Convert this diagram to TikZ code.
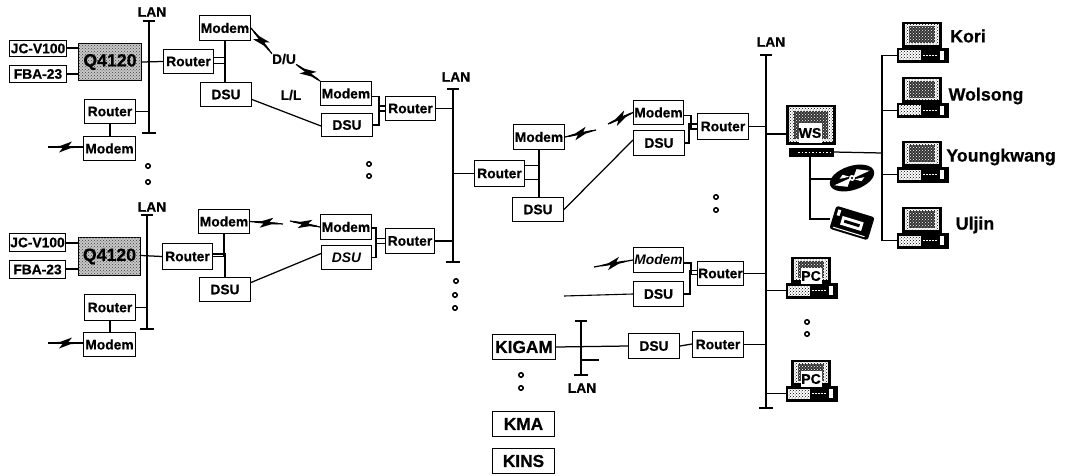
\documentclass[tikz,border=0pt]{standalone}
\usepackage{fontspec}
\setmainfont[BoldFeatures={FakeBold=0.6}]{Liberation Sans}
\usetikzlibrary{patterns,calc}
\tikzset{
  box/.style={draw=black,line width=1.3pt,fill=white,inner sep=0pt,font=\fontsize{13.8}{14}\bfseries\selectfont,text=black},
  bigbox/.style={box,font=\fontsize{17.3}{18}\bfseries\selectfont},
  grayb/.style={box,fill=black!22,postaction={pattern=crosshatch dots,pattern color=black!75},font=\fontsize{17.7}{18}\bfseries\selectfont},
  wire/.style={line width=1.25pt,black},
  thinwire/.style={line width=1.1pt,black},
  bar/.style={line width=1.4pt,black},
  lbl/.style={inner sep=0pt,font=\fontsize{13.8}{14}\bfseries\selectfont,text=black},
  sitelbl/.style={inner sep=0pt,font=\fontsize{17.8}{18}\bfseries\selectfont,text=black},
  ringdot/.style={circle,draw=black,line width=1.5pt,inner sep=0pt,minimum size=4.5pt},
  keyb/.style={draw=black,line width=.5pt,fill=black,inner sep=0pt},
  boltnode/.style={inner sep=0pt,sloped,pos=.5},
}
\newcommand{\bolticon}{\tikz[x=1pt,y=1pt,baseline=0pt]{\fill[black] (-12,-.8)--(-3,-1)--(-6.5,-5.5)--(5,-1.2)--(12,-.7)--(12,.8)--(3,1)--(6.5,5.5)--(-5,1.2)--(-12,.7)--cycle;}}
% \bx{name}{x0}{y0}{x1}{y1}{style}{text}
\newcommand{\bx}[7]{\node[#6,minimum width={(#4-#2-1.3)*1pt},minimum height={(#5-#3-1.3)*1pt}] (#1) at ({(#2+#4)/2},{(#3+#5)/2}) {#7};}
% LAN bar: name, x, ytop, ybottom
\newcommand{\lanbar}[4]{%
  \coordinate (#1t) at (#2,#3); \coordinate (#1b) at (#2,#4);
  \draw[bar] (#1t) -- (#1b);
  \draw[bar] ([xshift=-6pt]#1t) -- ([xshift=6pt]#1t);
  \draw[bar] ([xshift=-7pt]#1b) -- ([xshift=7pt]#1b);}
% \comp{name}{x}{y}{inner label}: monitor top-left at x,y
\newcommand{\comp}[4]{%
  \fill[black] (#2,#3) rectangle (#2+40,#3+26);
  \fill[white] (#2+3,#3+2) rectangle (#2+37,#3+23);
  \fill[pattern=crosshatch dots,pattern color=black] (#2+3,#3+2) rectangle (#2+37,#3+23);
  \fill[black!80] (#2+7,#3+4) rectangle (#2+33,#3+21);
  \fill[pattern=crosshatch dots,pattern color=white] (#2+7,#3+4) rectangle (#2+33,#3+21);
  \node[keyb,minimum width=51pt,minimum height=14.5pt] (#1) at (#2+20.5,#3+33.5) {};
  \fill[white] (#2-3,#3+28.5) rectangle (#2+19,#3+38.5);
  \fill[pattern=crosshatch dots,pattern color=black] (#2-3,#3+28.5) rectangle (#2+19,#3+38.5);
  \draw[white,line width=.8pt,dash pattern=on 2pt off 1pt] (#2+21,#3+33.5) -- (#2+35,#3+33.5);
  \fill[white] (#2+37.5,#3+29) rectangle (#2+42,#3+38);
  \ifx\relax#4\relax\else
    \node[inner sep=0pt,fill=white,minimum width=21pt,minimum height=16pt,font=\fontsize{14}{14}\bfseries\selectfont] at (#2+20,#3+19) {#4};
  \fi}
\begin{document}
\begin{tikzpicture}[x=1pt,y=-1pt]
\useasboundingbox (0,0) rectangle (1067,476);
\fill[white] (0,0) rectangle (1067,476);

%% ---------- LAN bars
\lanbar{la}{149}{21}{133}
\lanbar{lb}{147}{215}{329}
\lanbar{lc}{453}{89}{262}
\lanbar{ld}{766}{55}{408}
\lanbar{le}{581}{321}{375}
\node[lbl] (tla) at (152,12) {LAN};
\node[lbl] (tlb) at (152,207) {LAN};
\node[lbl] (tlc) at (456,77) {LAN};
\node[lbl] (tld) at (771,42) {LAN};
\node[lbl] (tle) at (582,388) {LAN};

%% ---------- top left group
\bx{jca}{9}{40}{67}{57}{box}{JC-V100}
\bx{fba}{9}{65}{67}{83}{box}{FBA-23}
\bx{qa}{78}{43}{142}{81}{grayb}{Q4120}
\bx{ra}{163}{49}{214}{74}{box}{Router}
\bx{ma}{199}{15}{251}{41}{box}{Modem}
\bx{da}{200}{82}{252}{107}{box}{DSU}
\bx{rla}{84}{99}{136}{124}{box}{Router}
\bx{mla}{83}{136}{136}{161}{box}{Modem}
\bx{mra}{320}{81}{372}{106}{box}{Modem}
\bx{dra}{321}{113}{373}{137}{box}{DSU}
\bx{rra}{385}{96}{436}{121}{box}{Router}
\node[lbl] (du) at (284,59) {D/U};
\node[lbl] (ll) at (291,95) {L/L};
\coordinate (fa) at (48,147);

\draw[wire] (jca.east |- 0,48) -- (qa.west |- 0,48);
\draw[wire] (fba.east |- 0,74) -- (qa.west |- 0,74);
\draw[wire] (qa.east) -- (ra.west);
\draw[wire] (rla.east) -- (rla.east -| lat);
\draw[wire] (rla.south) -- (rla.south |- mla.north);
\draw[wire] ([yshift=-2pt]ra.east) -| (ma.south);
\draw[wire] ([yshift=4pt]ra.east) -| (da.north -| ma.south);
\draw[wire] ([yshift=-5pt]da.east) -- ([yshift=-1pt]dra.west);
\draw[wire] ([yshift=-3pt]mra.east) -- ++(7,0) |- ([yshift=-2.5pt]rra.west);
\draw[wire] (dra.east) -- ++(6,0) |- ([yshift=2.5pt]rra.west);
\draw[wire] (rra.east) -- (rra.east -| lct);
\draw[wire] (ma.east) -- (du.north west) node[boltnode] {\bolticon};
\draw[wire] (du.south east) -- (mra.north west) node[boltnode] {\bolticon};
\draw[wire] (fa) -- (mla.west |- fa) node[boltnode] {\bolticon};

%% ---------- bottom left group
\bx{jcb}{9}{233}{66}{252}{box}{JC-V100}
\bx{fbb}{9}{260}{66}{279}{box}{FBA-23}
\bx{qb}{78}{237}{141}{276}{grayb}{Q4120}
\bx{rb}{162}{243}{213}{270}{box}{Router}
\bx{mb}{198}{209}{250}{234}{box}{Modem}
\bx{db}{199}{277}{251}{302}{box}{DSU}
\bx{rlb}{84}{294}{136}{321}{box}{Router}
\bx{mlb}{83}{332}{136}{357}{box}{Modem}
\bx{mrb}{320}{214}{372}{240}{box}{Modem}
\bx{drb}{321}{245}{372}{270}{box}{\itshape DSU}
\bx{rrb}{385}{228}{435}{254}{box}{Router}
\coordinate (gb1) at (283,224);
\coordinate (gb2) at (290,221);
\coordinate (fb) at (48,343);

\draw[wire] (jcb.east |- 0,243) -- (qb.west |- 0,243);
\draw[wire] (fbb.east |- 0,269) -- (qb.west |- 0,269);
\draw[wire] ([yshift=1pt]qb.east) -- (rb.west);
\draw[wire] (rlb.east) -- (rlb.east -| lbt);
\draw[wire] (rlb.south) -- (rlb.south |- mlb.north);
\draw[wire] (rb.east) -| (mb.south);
\draw[wire] ([yshift=2.5pt]rb.east) -- ++(12,0) |- (db.north);
\draw[wire] ([yshift=7pt]db.east) -- ([yshift=4pt]drb.west);
\draw[wire] ([yshift=-1pt]mrb.east) -- ++(4,0) |- ([yshift=-2.5pt]rrb.west);
\draw[wire] (drb.east) -- ++(4,0) |- ([yshift=2.5pt]rrb.west);
\draw[wire] (rrb.east) -- (rrb.east -| lct);
\draw[wire] (mb.east) -- (gb1) node[boltnode] {\bolticon};
\draw[wire] (gb2) -- (mrb.west) node[boltnode] {\bolticon};
\draw[wire] (fb) -- (mlb.west |- fb) node[boltnode] {\bolticon};

%% ---------- middle group
\bx{rm}{474}{160}{525}{187}{box}{Router}
\bx{mm}{513}{124}{565}{150}{box}{Modem}
\bx{dm}{512}{197}{564}{222}{box}{DSU}
\bx{mn}{633}{100}{684}{125}{box}{Modem}
\bx{dn}{633}{130}{685}{156}{box}{DSU}
\bx{rn}{697}{113}{749}{140}{box}{Router}
\coordinate (gm1) at (596,130);
\coordinate (gm2) at (608,124);

\draw[wire] (rm.west -| lct) -- (rm.west);
\draw[wire] ([yshift=-6pt]rm.east) -| (mm.south);
\draw[wire] ([yshift=8pt]rm.east) -| (dm.north -| mm.south);
\draw[wire] (dm.east) -- ([yshift=3pt]dn.west);
\draw[wire] (mm.east) -- (gm1) node[boltnode] {\bolticon};
\draw[wire] (gm2) -- (mn.west) node[boltnode] {\bolticon};
\draw[wire] ([yshift=-3pt]mn.east) -- ++(7,0) |- ([yshift=-2.5pt]rn.west);
\draw[wire] (dn.east) -- ++(4,0) |- ([yshift=2.5pt]rn.west);
\draw[wire] (rn.east) -- (rn.east -| ldt);

%% ---------- lower middle
\bx{mo}{633}{247}{684}{273}{box}{\itshape Modem}
\bx{ro}{697}{261}{744}{286}{box}{Router}
\bx{do}{633}{281}{684}{307}{box}{DSU}
\coordinate (go) at (594,267);
\coordinate (hd) at (564,296);
\draw[wire] (go) -- (mo.west) node[boltnode] {\bolticon};
\draw[thinwire] (hd) -- (do.west);
\draw[wire] ([yshift=-3pt]mo.east) -- ++(7,0) |- ([yshift=-1pt]ro.west);
\draw[wire] (do.east) -- ++(6,0) |- ([yshift=3pt]ro.west);
\draw[wire] (ro.east) -- (ro.east -| ldt);

%% ---------- KIGAM row
\bx{kg}{492}{334}{556}{360}{bigbox}{KIGAM}
\bx{kma}{492}{411}{555}{437}{bigbox}{KMA}
\bx{kin}{492}{448}{555}{474}{bigbox}{KINS}
\bx{dk}{628}{333}{680}{359}{box}{DSU}
\bx{rk}{692}{331}{744}{358}{box}{Router}
\coordinate (stub) at (599,360);
\draw[wire] (kg.east) -- (dk.west);
\draw[wire] (dk.east) -- ([yshift=.5pt]rk.west);
\draw[wire] (rk.east) -- (rk.east -| ldt);
\draw[wire] (stub -| let) -- (stub);

%% ---------- workstation cluster
\fill[black] (786,105) rectangle (836,145);
\fill[white] (789,107) rectangle (833,142);
\fill[pattern=crosshatch dots,pattern color=black] (789,107) rectangle (833,142);
\fill[black!80] (794,111) rectangle (828,139);
\fill[pattern=crosshatch dots,pattern color=white] (794,111) rectangle (828,139);
\coordinate (wsm) at (786,134);
\node[inner sep=0pt,fill=white,minimum width=23pt,minimum height=20pt,font=\fontsize{14}{14}\bfseries\selectfont] (wsl) at (810,133) {WS};
\node[keyb,minimum width=44pt,minimum height=8pt] (wsb) at (811,152) {};
\draw[white,line width=.7pt,dash pattern=on 1.5pt off 2pt] (798,152.5) -- (830,152.5);

\comp{kori}{902}{22}{}
\comp{wol}{902}{77}{}
\comp{you}{902}{141}{}
\comp{ulj}{902}{207}{}
\node[sitelbl] (tk) at (968,36) {Kori};
\node[sitelbl] (tw) at (986,96) {Wolsong};
\node[sitelbl] (ty) at (1001,157) {Youngkwang};
\node[sitelbl] (tu) at (975,225) {Uljin};

\comp{pca}{791}{257}{PC}
\comp{pcb}{791}{360}{PC}

\coordinate (tree) at (882,153);
\draw[wire] (wsb.east) -- (tree);
\draw[wire] (kori.west) -| (ulj.west -| tree);
\draw[wire] (wol.west) -- (wol.west -| tree);
\draw[wire] (you.west) -- (you.west -| tree);
\draw[wire] (ulj.west) -- (ulj.west -| tree);
\draw[wire] (wsm -| ldt) -- (wsm);
\draw[wire] (pca.west) -- (pca.west -| ldt);
\draw[wire] (pcb.west) -- (pcb.west -| ldt);

% disc
\begin{scope}[shift={(852,178)},rotate=18]
  \fill[black] (0,0) ellipse (23pt and 12pt);
  \fill[white] (-19,1.5) -- (-1,-.5) -- (-7,7) -- cycle;
  \fill[white] (19,-1.5) -- (1,.5) -- (7,-7) -- cycle;
  \fill[white] (-8,-6) -- (-2,-2) -- (-12,-3) -- cycle;
  \fill[white] (8,6) -- (2,2) -- (12,3) -- cycle;
  \fill[white] (0,0) circle (3pt);
  \fill[black] (0,0) circle (1.2pt);
\end{scope}
\coordinate (diskin) at (832,179);
% tape
\begin{scope}[shift={(852,223)},rotate=-17]
  \fill[black,rounded corners=2.5pt] (-20,-12) rectangle (20,12);
  \fill[white] (-11,-4) rectangle (11,5);
  \fill[black] (-8,-1) rectangle (8,2);
  \fill[white] (-17,-9) rectangle (-14,-3);
  \fill[white] (-17,9) rectangle (16,10);
\end{scope}
\coordinate (tapein) at (830,219);
\coordinate (wstr) at (810,156);
\draw[wire] (wstr) |- (tapein);
\draw[wire] (wstr |- diskin) -- (diskin);

%% ---------- ellipsis dots
\foreach \n/\x/\y in {a1/148/166,a2/148/182,b1/369/164,b2/369/176,c1/456/281,c2/455/295,c3/455/308,
  d1/716/197,d2/716/210,e1/521/375,e2/521/388,f1/807/322,f2/807/334}
  \node[ringdot] (dot\n) at (\x,\y) {};
\end{tikzpicture}
\end{document}
